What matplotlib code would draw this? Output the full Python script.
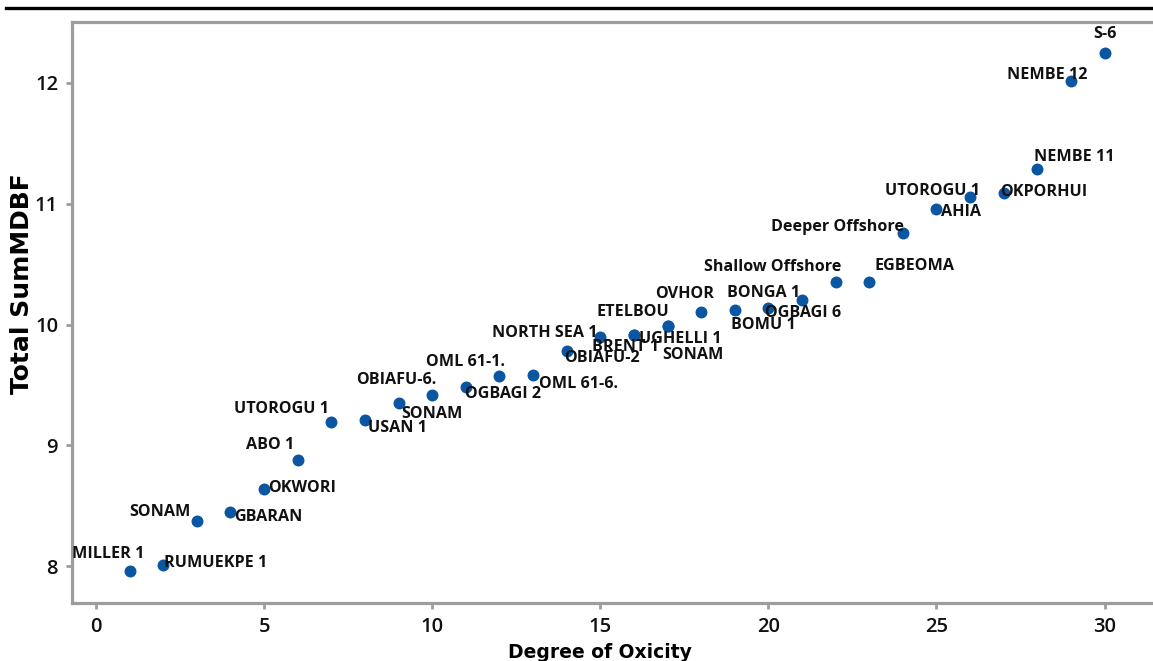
import matplotlib
matplotlib.use("Agg")
import matplotlib.pyplot as plt
from matplotlib.lines import Line2D

# Oxicity degree vs. total summed MDBF per sample
samples = ["MILLER 1", "RUMUEKPE 1", "SONAM", "GBARAN", "OKWORI", "ABO 1",
           "UTOROGU 1", "USAN 1", "OBIAFU-6.", "SONAM", "OGBAGI 2", "OML 61-1.",
           "OML 61-6.", "OBIAFU-2", "NORTH SEA 1", "BRENT 1", "ETELBOU",
           "UGHELLI 1", "SONAM", "OVHOR", "BOMU 1", "BONGA 1", "OGBAGI 6",
           "Shallow Offshore", "EGBEOMA", "Deeper Offshore", "AHIA",
           "UTOROGU 1", "OKPORHUI", "NEMBE 11", "NEMBE 12", "S-6"]
oxicity = [1, 2, 3, 4, 5, 6, 7, 8, 9, 10, 11, 12, 13, 14, 15, 16, 16,
           17, 17, 18, 19, 20, 21, 22, 23, 24, 25, 26, 27, 28, 29, 30]
sum_mdbf = [7.96, 8.01, 8.37, 8.45, 8.64, 8.88, 9.19, 9.21, 9.35, 9.42,
            9.48, 9.57, 9.58, 9.78, 9.90, 9.91, 9.91, 9.99, 9.99, 10.10,
            10.12, 10.14, 10.20, 10.35, 10.35, 10.76, 10.96, 11.06, 11.09,
            11.29, 12.02, 12.25]

# label placement (pixels right / down from each point)
label_offsets = [(-21, -17), (52, -2), (-37, -9), (38, 5), (38, -1), (-28, -15),
                 (-50, -13), (33, 8), (-2, -23), (0, 19), (37, 7), (-34, -14),
                 (45, 9), (35, 7), (-56, -4), (-8, 12), (-1, -23), (13, 13),
                 (25, 29), (-17, -18), (29, 15), (-5, -15), (1, 13), (-63, -15),
                 (45, -16), (-65, -6), (25, 3), (-38, -6), (40, -1), (37, -12),
                 (-24, -6), (0, -19)]

W, H = 1153, 661
fig = plt.figure(figsize=(W / 100, H / 100), dpi=100)
ax = fig.add_axes([72 / W, (H - 603) / H, 1 - 72 / W, (603 - 22) / H])

ax.scatter(oxicity, sum_mdbf, s=74, color="#0b56a3", zorder=3, linewidths=0)

for name, x, y, (dx, dy) in zip(samples, oxicity, sum_mdbf, label_offsets):
    ax.annotate(name, (x, y), xytext=(dx, -dy), textcoords="offset pixels",
                ha="center", va="center", fontsize=11.6, fontweight="bold",
                family="Open Sans", color="#111111", zorder=4)

ax.set_xlim(-0.714, 31.44)
ax.set_ylim(7.694, 12.505)
ax.set_xticks([0, 5, 10, 15, 20, 25, 30])
ax.set_yticks([8, 9, 10, 11, 12])

grey = "#9d9d9d"
for side in ("left", "bottom", "top"):
    ax.spines[side].set_color(grey)
    ax.spines[side].set_linewidth(2.3)
ax.spines["right"].set_visible(False)
ax.tick_params(axis="both", colors=grey, width=2, length=4, direction="out",
               labelcolor="#111111", labelsize=14.5, pad=6)
for lab in ax.get_xticklabels() + ax.get_yticklabels():
    lab.set_family("Open Sans")
    lab.set_fontweight("semibold")

ax.set_xlabel("Degree of Oxicity", fontsize=13.5, fontweight="bold",
              family="DejaVu Sans")
ax.xaxis.set_label_coords((600 - 72) / 1081, (603 - 653) / 581)
ax.set_ylabel("Total SumMDBF", fontsize=18, fontweight="bold",
              family="DejaVu Sans")
ax.yaxis.set_label_coords((22 - 72) / 1081, (603 - 284) / 581)
ax.xaxis.label.set_va("center")
ax.yaxis.label.set_va("center")

# heavy rule across the top of the figure
fig.add_artist(Line2D([6 / W, 1.0], [1 - 7.5 / H] * 2, color="black",
                      linewidth=2.4, transform=fig.transFigure))

fig.savefig("out.png", dpi=100)
